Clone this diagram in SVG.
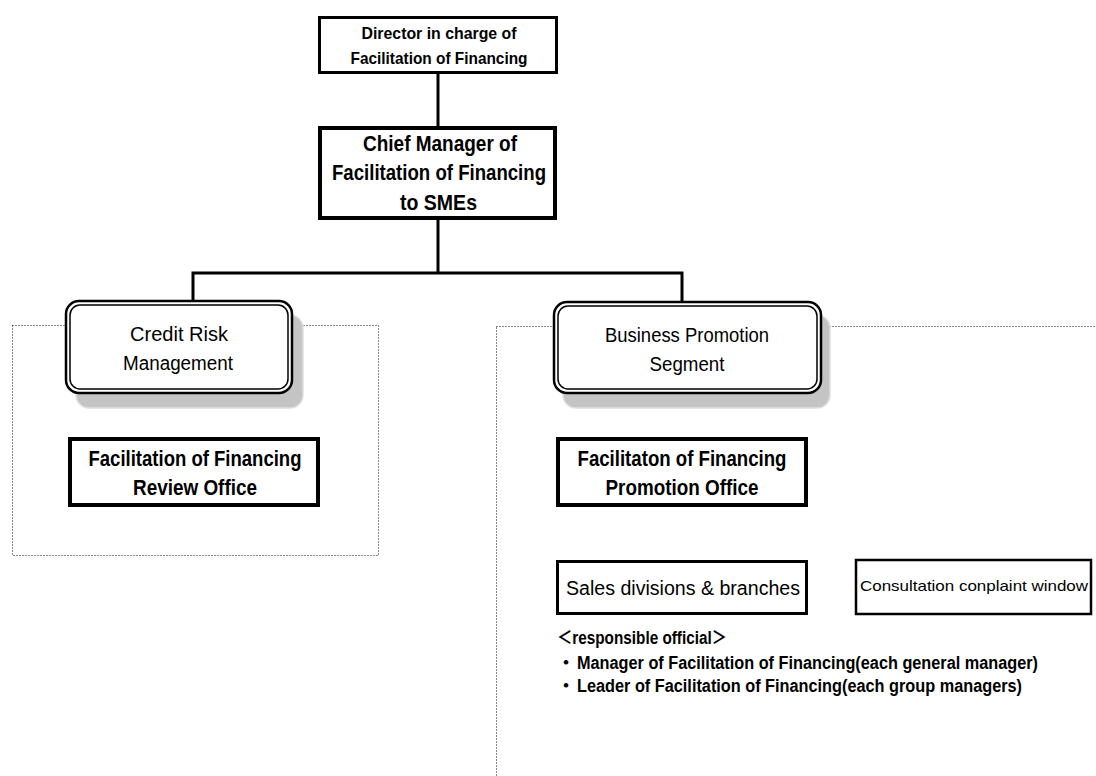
<svg xmlns="http://www.w3.org/2000/svg" width="1096" height="776" viewBox="0 0 1096 776">
<defs>
<style>
.t{font-family:"Liberation Sans Narrow","Liberation Sans","Noto Sans CJK JP",sans-serif;fill:#000}
.b{font-weight:bold}
.c{text-anchor:middle}
.box{fill:#fff;stroke:#000}
.dot{fill:none;stroke:#111;stroke-width:1;stroke-dasharray:1 2}
.conn{fill:none;stroke:#000;stroke-width:3}
.shadow{fill:#c4c4c4;stroke:#e0e0e0;stroke-width:1.5}
.rr1{fill:#fff;stroke:#000;stroke-width:2.5}
.rr2{fill:none;stroke:#000;stroke-width:1.5}
</style>
</defs>
<rect width="1096" height="776" fill="#fff"/>

<g id="group-credit">
<rect class="dot" x="12.5" y="325.5" width="366" height="230"/>
</g>
<g id="group-business">
<rect class="dot" x="496.5" y="326.5" width="700" height="600"/>
</g>

<g id="connectors">
<path class="conn" d="M438,73 V126"/>
<path class="conn" d="M438,219 V273 M193,273 H682 M193,271.5 V301 M682,271.5 V303"/>
</g>

<g id="director">
<rect class="box" x="319.5" y="17.5" width="237" height="55" stroke-width="3"/>
<text class="t b c" x="439" y="38.5" font-size="17" textLength="155" lengthAdjust="spacingAndGlyphs">Director in charge of</text>
<text class="t b c" x="439" y="63.5" font-size="17" textLength="177" lengthAdjust="spacingAndGlyphs">Facilitation of Financing</text>
</g>

<g id="chief">
<rect class="box" x="320" y="128" width="235" height="90" stroke-width="4"/>
<text class="t b c" x="440" y="151" font-size="22" textLength="154" lengthAdjust="spacingAndGlyphs">Chief Manager of</text>
<text class="t b c" x="439" y="180" font-size="22" textLength="214" lengthAdjust="spacingAndGlyphs">Facilitation of Financing</text>
<text class="t b c" x="438.5" y="210" font-size="22" textLength="77" lengthAdjust="spacingAndGlyphs">to SMEs</text>
</g>

<g id="credit-risk">
<rect class="shadow" x="76" y="315" width="227" height="93" rx="13"/>
<rect class="rr1" x="66" y="301" width="226" height="92" rx="13"/>
<rect class="rr2" x="70" y="305" width="218" height="84" rx="10"/>
<text class="t c" x="179" y="341" font-size="20" textLength="98" lengthAdjust="spacingAndGlyphs">Credit Risk</text>
<text class="t c" x="178" y="370" font-size="20" textLength="110" lengthAdjust="spacingAndGlyphs">Management</text>
</g>

<g id="business-promotion">
<rect class="shadow" x="563" y="315" width="267" height="93" rx="13"/>
<rect class="rr1" x="554" y="302" width="267" height="91" rx="13"/>
<rect class="rr2" x="558" y="306" width="259" height="83" rx="10"/>
<text class="t c" x="687" y="342" font-size="20" textLength="164" lengthAdjust="spacingAndGlyphs">Business Promotion</text>
<text class="t c" x="687" y="371" font-size="20" textLength="75" lengthAdjust="spacingAndGlyphs">Segment</text>
</g>

<g id="review-office">
<rect class="box" x="70" y="439" width="248" height="66" stroke-width="4"/>
<text class="t b c" x="195" y="466" font-size="22" textLength="213" lengthAdjust="spacingAndGlyphs">Facilitation of Financing</text>
<text class="t b c" x="195" y="495" font-size="22" textLength="124" lengthAdjust="spacingAndGlyphs">Review Office</text>
</g>

<g id="promotion-office">
<rect class="box" x="558" y="439" width="248" height="66" stroke-width="4"/>
<text class="t b c" x="682" y="466" font-size="22" textLength="209" lengthAdjust="spacingAndGlyphs">Facilitaton of Financing</text>
<text class="t b c" x="682" y="495" font-size="22" textLength="153" lengthAdjust="spacingAndGlyphs">Promotion Office</text>
</g>

<g id="sales">
<rect class="box" x="557.5" y="561.5" width="249" height="52" stroke-width="3"/>
<text class="t c" x="683" y="594.5" font-size="20" textLength="234" lengthAdjust="spacingAndGlyphs">Sales divisions &amp; branches</text>
</g>

<g id="consultation">
<rect class="box" x="856" y="560" width="235" height="54" stroke-width="2.5"/>
<text class="t c" x="974" y="591" font-size="15" textLength="228" lengthAdjust="spacingAndGlyphs">Consultation conplaint window</text>
</g>

<g id="responsible">
<text class="t b" x="557" y="644" font-size="18" textLength="170" lengthAdjust="spacingAndGlyphs">＜responsible official＞</text>
<text class="t b" x="557" y="669" font-size="18">・</text>
<text class="t b" x="577" y="669" font-size="18" textLength="461" lengthAdjust="spacingAndGlyphs">Manager of Facilitation of Financing(each general manager)</text>
<text class="t b" x="557" y="692" font-size="18">・</text>
<text class="t b" x="577" y="692" font-size="18" textLength="445" lengthAdjust="spacingAndGlyphs">Leader of Facilitation of Financing(each group managers)</text>
</g>
</svg>
